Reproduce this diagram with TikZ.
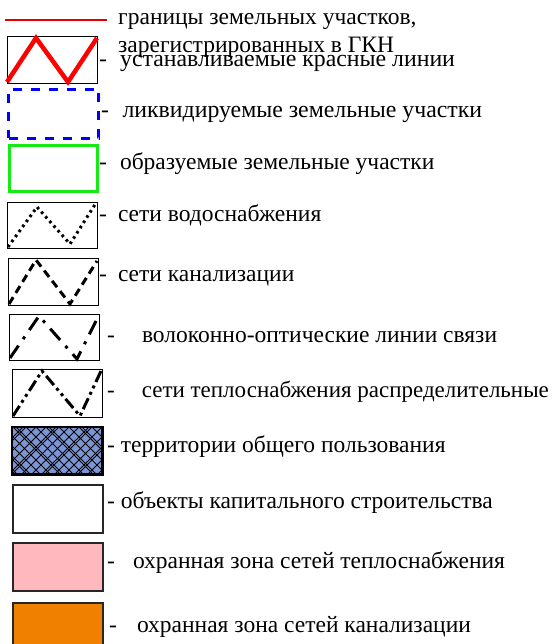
\documentclass[tikz,border=0pt]{standalone}
\usepackage{fontspec}
\setmainfont{Liberation Serif}
\begin{document}
\begin{tikzpicture}[x=1pt,y=-1pt,
  lab/.style={anchor=base west,inner sep=0pt,font=\fontsize{23.5}{27}\selectfont},
  frame/.style={draw=black,line width=1.4pt},
  zig/.style={line width=3pt,line cap=butt}]
\useasboundingbox (0,0) rectangle (552,644);
% 1 boundary line
\coordinate (l1a) at (5,20); \coordinate (l1b) at (107,20);
\draw[red!90!black,line width=1.3pt] (l1a) -- (l1b);
\node[lab] (t1) at (118,25) {границы земельных участков,};
\node[lab] (t1b) at (118,53) {зарегистрированных в ГКН};
% 2 red lines
\node[frame,minimum width=90pt,minimum height=47pt,anchor=north west,inner sep=0pt] (b2) at (7,36) {};
\draw[red,line width=4.5pt,line join=miter] (7,82) -- (36,38) -- (68,82) -- (97,38);
\node[lab,font=\fontsize{23.8}{27}\selectfont] (t2) at (99,67) {-\hspace{13pt}устанавливаемые красные линии};
% 3 blue dashed
\node[draw=blue,line width=3pt,dash pattern=on 9pt off 9pt,minimum width=90pt,minimum height=49pt,anchor=north west,inner sep=0pt] (b3) at (7,88) {};
\node[lab,font=\fontsize{23.8}{27}\selectfont] (t3) at (101,118) {-\hspace{13.4pt}ликвидируемые земельные участки};
% 4 green
\node[draw={rgb,255:red,20;green,235;blue,20},line width=3pt,minimum width=88pt,minimum height=46pt,anchor=north west,inner sep=0pt] (b4) at (8,144) {};
\node[lab] (t4) at (99,170) {-\hspace{13pt}образуемые земельные участки};
% 5 water (dotted)
\node[frame,minimum width=90pt,minimum height=46pt,anchor=north west,inner sep=0pt] (b5) at (7,202) {};
\draw[zig,dash pattern=on 2.6pt off 3.6pt] (8,247) -- (37,207) -- (70,244) -- (96,203);
\node[lab] (t5) at (99,222) {-\hspace{11pt}сети водоснабжения};
% 6 sewer (dashed)
\node[frame,minimum width=90pt,minimum height=47pt,anchor=north west,inner sep=0pt] (b6) at (8,258) {};
\draw[zig,dash pattern=on 8pt off 5pt] (9,304) -- (36,260) -- (70,304) -- (97,261);
\node[lab] (t6) at (99,281) {-\hspace{11pt}сети канализации};
% 7 fibre (dash-dot)
\node[frame,minimum width=90pt,minimum height=46pt,anchor=north west,inner sep=0pt] (b7) at (9,314) {};
\draw[zig,dash pattern=on 15pt off 8pt on 3pt off 8pt] (10,358) -- (39,316) -- (77,359) -- (98,317);
\node[lab] (t7) at (107,342) {-\hspace{27pt}волоконно-оптические линии связи};
% 8 heating (dash-dot-dot)
\node[frame,minimum width=90pt,minimum height=48pt,anchor=north west,inner sep=0pt] (b8) at (12,369) {};
\draw[zig,dash pattern=on 12pt off 4pt on 3pt off 4pt on 3pt off 4pt] (13,416) -- (42,371) -- (80,416) -- (101,371);
\node[lab,font=\fontsize{23}{27}\selectfont] (t8) at (107,397) {-\hspace{27pt}сети теплоснабжения распределительные};
% 9 public territory (hatched)
\node[fill={rgb,255:red,123;green,150;blue,212},minimum width=90pt,minimum height=47pt,anchor=north west,inner sep=0pt] (b9) at (12,427) {};
\begin{scope}
\clip (b9.south west) rectangle (b9.north east);
\foreach \s in {-44,-34,-24,-21,-11,-1,9,12,22,32,42,45,55,65,75,78,88,98}{
  \draw[line width=0.9pt] (\s,474) -- (\s+47,427);
  \draw[line width=0.9pt] (\s+4,427) -- (\s+51,474);
}
\end{scope}
\draw[line width=2.6pt] (b9.south west) rectangle (b9.north east);
\node[lab] (t9) at (107,452) {- территории общего пользования};
% 10 buildings
\node[draw=black!85,line width=1.6pt,minimum width=90pt,minimum height=48pt,anchor=north west,inner sep=0pt] (b10) at (12,484) {};
\node[lab] (t10) at (107,508) {- объекты капитального строительства};
% 11 heating protection zone
\node[draw=black!85,fill={rgb,255:red,255;green,185;blue,190},line width=1.6pt,minimum width=90pt,minimum height=48pt,anchor=north west,inner sep=0pt] (b11) at (12,542) {};
\node[lab] (t11) at (107,568) {-\hspace{18pt}охранная зона сетей теплоснабжения};
% 12 sewer protection zone
\node[draw=black!85,fill={rgb,255:red,240;green,128;blue,0},line width=1.6pt,minimum width=90pt,minimum height=48pt,anchor=north west,inner sep=0pt] (b12) at (12,602) {};
\node[lab] (t12) at (109,632) {-\hspace{20pt}охранная зона сетей канализации};
\end{tikzpicture}
\end{document}
